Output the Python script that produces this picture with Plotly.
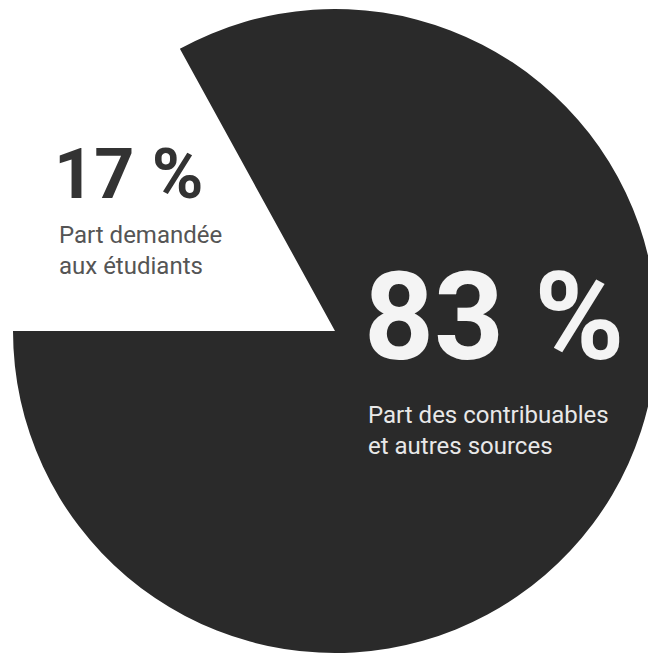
import plotly.graph_objects as go

W, H = 656, 653
OFF = 8  # page body margin offset of the rendered figure

# Data
labels = ["Part demandée aux étudiants", "Part des contribuables et autres sources"]
values = [17, 83]
pct_labels = ["17 %", "83 %"]
sub_labels = ["Part demandée<br>aux étudiants", "Part des contribuables<br>et autres sources"]

slice_colors = ["rgba(255,255,255,0)", "#2a2a2a"]

BIG = "Roboto, sans-serif"
SMALL = "Roboto, sans-serif"

# pie centre / radius in screen pixels
CX, CY, R = 335 - OFF, 331 - OFF, 322

fig = go.Figure(go.Pie(
    labels=labels,
    values=values,
    sort=False,
    direction="clockwise",
    rotation=270,
    marker=dict(colors=slice_colors, line=dict(width=0)),
    textinfo="none",
    hoverinfo="skip",
    showlegend=False,
    domain=dict(x=[(CX - R) / W, (CX + R) / W],
                y=[1 - (CY + R) / H, 1 - (CY - R) / H]),
))

def px(x):
    return (x - OFF) / W

def py(y):
    return 1 - (y - OFF) / H

annotations = [
    dict(text=pct_labels[0], x=px(52), y=py(174), xanchor="left", yanchor="middle",
         font=dict(family=BIG, size=70, color="#333333", weight="bold")),
    dict(text=sub_labels[0], x=px(57), y=py(251), xanchor="left", yanchor="middle", align="left",
         font=dict(family=SMALL, size=24, color="#555555")),
    dict(text=pct_labels[1], x=px(362), y=py(318), xanchor="left", yanchor="middle",
         font=dict(family=BIG, size=122, color="#f4f4f4", weight="bold")),
    dict(text=sub_labels[1], x=px(366), y=py(430), xanchor="left", yanchor="middle", align="left",
         font=dict(family=SMALL, size=24, color="#e8e8e8")),
]
for a in annotations:
    a.update(xref="paper", yref="paper", showarrow=False)

fig.update_layout(
    width=W, height=H,
    margin=dict(l=0, r=0, t=0, b=0),
    paper_bgcolor="white",
    plot_bgcolor="white",
    annotations=annotations,
)

fig.write_html("out.html")
